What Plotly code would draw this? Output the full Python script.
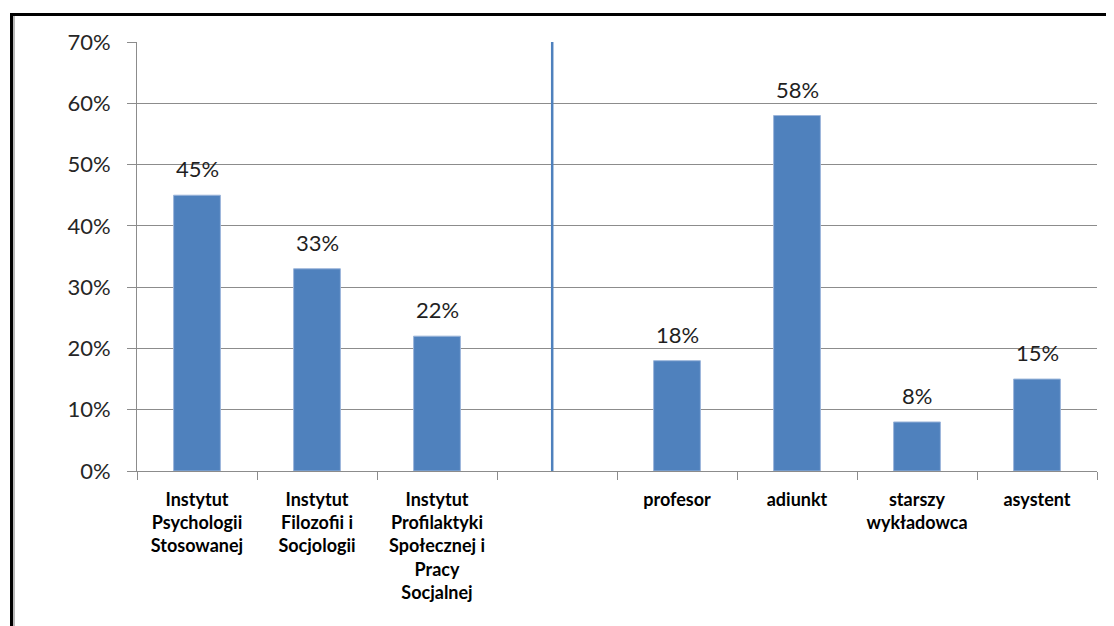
import plotly.graph_objects as go

categories = [
    "Instytut<br>Psychologii<br>Stosowanej",
    "Instytut<br>Filozofii i<br>Socjologii",
    "Instytut<br>Profilaktyki<br>Społecznej i<br>Pracy<br>Socjalnej",
    " ",
    "profesor",
    "adiunkt",
    "starszy<br>wykładowca",
    "asystent",
]
values = [0.45, 0.33, 0.22, None, 0.18, 0.58, 0.08, 0.15]
y_ticks = [0, 0.1, 0.2, 0.3, 0.4, 0.5, 0.6, 0.7]
separator_pos = 2.96
separator_top = 0.7

BAR = "#4F81BD"
GRID = "#8C8C8C"
FONT = "Lato, Carlito, Calibri, 'Open Sans', sans-serif"

# page has an 8px body margin; compensate so the plot lands where the reference has it
L, T, PH, PW = 129, 34, 429, 960
W, H = 1114, 626

fig = go.Figure()
fig.add_trace(go.Bar(
    x=categories, y=values,
    marker=dict(color=BAR, line=dict(color="#9BB5DA", width=1)),
    width=0.39,
    hoverinfo="skip",
))

for c, v in zip(categories, values):
    if v is None:
        continue
    fig.add_annotation(
        x=c, y=v, xref="x", yref="y",
        text=f"{round(v*100)}%", showarrow=False,
        yanchor="bottom", yshift=11,
        font=dict(family=FONT, size=22, color="#1F1F1F"),
    )

fig.add_shape(type="line", xref="x", yref="y",
              x0=separator_pos, x1=separator_pos, y0=0, y1=separator_top,
              line=dict(color=BAR, width=2.5), layer="above")

def px_x(p):
    return (p - (L + 8)) / PW

def px_y(p):
    return 1 + ((T + 8) - p) / PH

# outer frame (pixel positions of the reference image)
fig.add_shape(type="line", xref="paper", yref="paper",
              x0=px_x(11.5), x1=px_x(1130), y0=px_y(14.5), y1=px_y(14.5),
              line=dict(color="black", width=3))
fig.add_shape(type="line", xref="paper", yref="paper",
              x0=px_x(11.5), x1=px_x(11.5), y0=px_y(13), y1=px_y(640),
              line=dict(color="black", width=3))
fig.add_shape(type="line", xref="paper", yref="paper",
              x0=px_x(14), x1=px_x(14), y0=px_y(16), y1=px_y(640),
              line=dict(color="#A0A0A0", width=1.5))

fig.update_layout(
    width=W, height=H,
    margin=dict(l=L, r=W - L - PW, t=T, b=H - T - PH),
    paper_bgcolor="white", plot_bgcolor="white",
    showlegend=False,
    xaxis=dict(
        type="category",
        showline=True, linecolor=GRID, linewidth=1,
        ticks="outside", ticklen=8, tickcolor=GRID,
        tickmode="array", tickvals=categories,
        tickson="boundaries",
        showgrid=False,
        tickfont=dict(family=FONT, size=18, color="black", weight="bold"),
        ticklabelstandoff=12,
    ),
    yaxis=dict(
        range=[0, 0.7],
        tickvals=y_ticks, tickformat=".0%",
        showline=True, linecolor=GRID, linewidth=1,
        ticks="outside", ticklen=9, tickcolor=GRID,
        showgrid=True, gridcolor=GRID, gridwidth=1,
        zeroline=False,
        tickfont=dict(family=FONT, size=22, color="#262626"),
        ticklabelstandoff=12,
    ),
)

fig.write_html("out.html")
